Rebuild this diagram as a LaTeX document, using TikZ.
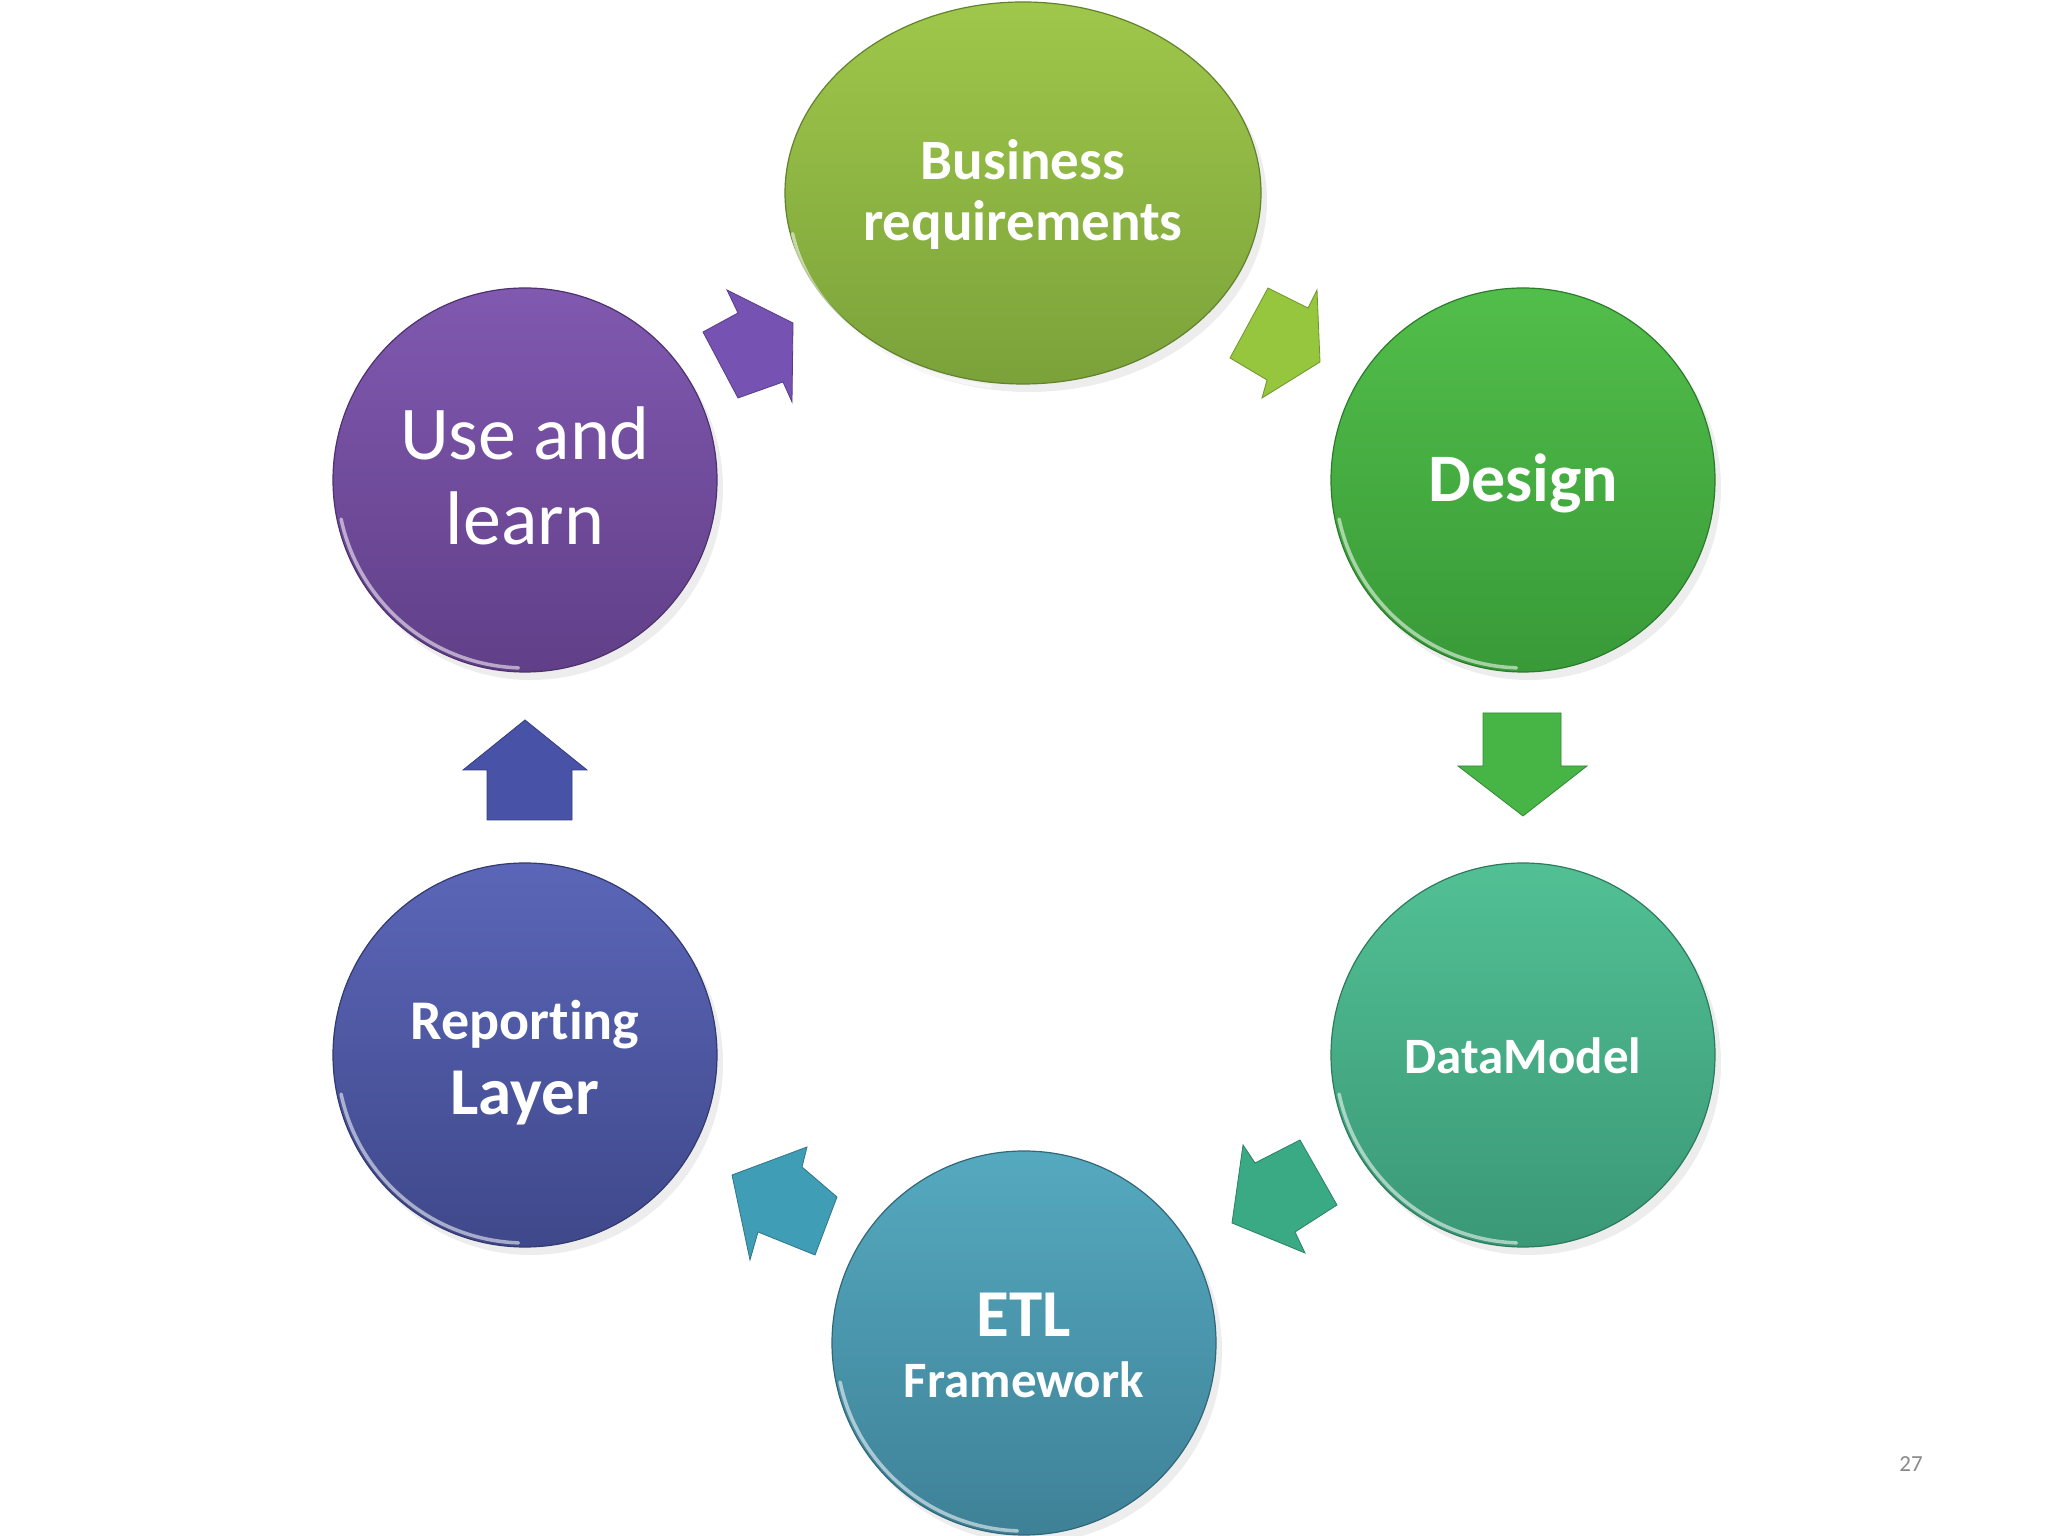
\documentclass[tikz,border=0pt]{standalone}
\usepackage{fontspec}
\setmainfont{Carlito}[Ligatures=NoCommon]
\usetikzlibrary{shapes.geometric}
\definecolor{bizT}{HTML}{9FC74A}
\definecolor{bizB}{HTML}{7BA23A}
\definecolor{desT}{HTML}{52BE4A}
\definecolor{desB}{HTML}{389A38}
\definecolor{datT}{HTML}{52C094}
\definecolor{datB}{HTML}{3A9877}
\definecolor{etlT}{HTML}{55A9BF}
\definecolor{etlB}{HTML}{3E8197}
\definecolor{repT}{HTML}{5B66B8}
\definecolor{repB}{HTML}{3F488A}
\definecolor{useT}{HTML}{8059B0}
\definecolor{useB}{HTML}{613F88}
\definecolor{arPur}{HTML}{7652B2}
\definecolor{arYg}{HTML}{96C63D}
\definecolor{arGr}{HTML}{47B545}
\definecolor{arTe}{HTML}{3AAA84}
\definecolor{arBt}{HTML}{3F9DB5}
\definecolor{arBl}{HTML}{4852A6}
\definecolor{pgnum}{HTML}{8A8A8A}
\tikzset{
  bubble/.style={circle, minimum size=384pt, inner sep=0pt, line width=1.2pt},
  oval/.style={ellipse, minimum width=476pt, minimum height=382pt, inner sep=0pt, line width=1.2pt},
  shade/.style={fill=black, opacity=0.07},
  hl/.style={white, opacity=0.55, line width=3.5pt, line cap=round},
  blk/.style={draw=#1!75!black, line width=0.8pt, fill=#1},
  lbl/.style={text=white, anchor=base, inner sep=0pt, font=\bfseries},
}
\begin{document}
\begin{tikzpicture}[x=1pt,y=1pt]
\useasboundingbox (0,0) rectangle (2048,1536);
\fill[white] (0,0) rectangle (2048,1536);
% soft shadows
\fill[shade] (1029,1335) ellipse [x radius=238, y radius=191];
\foreach \cx/\cy in {1523/1056, 1523/481, 1024/193, 525/481, 525/1056}
  \fill[shade] (\cx+6,\cy-8) circle (192);
% bubbles
\node[oval, top color=bizT, bottom color=bizB, draw=bizB!80!black] (biz) at (1023,1343) {};
\node[bubble, top color=desT, bottom color=desB, draw=desB!80!black] (des) at (1523,1056) {};
\node[bubble, top color=datT, bottom color=datB, draw=datB!80!black] (dat) at (1523,481) {};
\node[bubble, top color=etlT, bottom color=etlB, draw=etlB!80!black] (etl) at (1024,193) {};
\node[bubble, top color=repT, bottom color=repB, draw=repB!80!black] (rep) at (525,481) {};
\node[bubble, top color=useT, bottom color=useB, draw=useB!80!black] (use) at (525,1056) {};
% rim highlights
\draw[hl] ([shift={(190:234)}]biz.center) arc[start angle=190, end angle=262, x radius=234, y radius=187];
\foreach \n in {des,dat,etl,rep,use}
  \draw[hl] ([shift={(192:188)}]\n.center) arc[start angle=192, end angle=268, radius=188];
% labels
\node[lbl, font=\bfseries\fontsize{57}{57}\selectfont] (biz1) at (1023,1356) {Business};
\node[lbl, font=\bfseries\fontsize{57}{57}\selectfont] (biz2) at (1023,1295) {requirements};
\node[lbl, font=\bfseries\fontsize{68}{68}\selectfont] (des1) at (1523,1034) {Design};
\node[lbl, font=\bfseries\fontsize{51}{51}\selectfont] (dat1) at (1523,462) {DataModel};
\node[lbl, font=\bfseries\fontsize{67}{67}\selectfont] (etl1) at (1024,199) {ETL};
\node[lbl, font=\bfseries\fontsize{51}{51}\selectfont] (etl2) at (1024,138) {Framework};
\node[lbl, font=\bfseries\fontsize{56}{56}\selectfont] (rep1) at (525,496) {Reporting};
\node[lbl, font=\bfseries\fontsize{67}{67}\selectfont] (rep2) at (525,421) {Layer};
\node[lbl, font=\fontsize{76}{76}\selectfont] (use1) at (525,1076) {Use and};
\node[lbl, font=\fontsize{76}{76}\selectfont] (use2) at (525,991) {learn};
\node[anchor=base, inner sep=0pt, text=pgnum, font=\fontsize{23}{23}\selectfont] (pg) at (1911,64) {27};
% block arrows
\filldraw[blk=arPur] (727,1246) -- (793,1213) -- (792,1134) -- (783,1154) -- (738,1138) -- (703,1204) -- (738,1223) -- cycle;
\filldraw[blk=arYg] (1268,1248) -- (1308,1228) -- (1317,1246) -- (1320,1174) -- (1262,1138) -- (1267,1156) -- (1230,1178) -- cycle;
\filldraw[blk=arGr] (1483,823) -- (1561,823) -- (1561,770) -- (1587,770) -- (1523,720) -- (1458,770) -- (1483,770) -- cycle;
\filldraw[blk=arTe] (1243,391) -- (1255,373) -- (1300,396) -- (1337,331) -- (1295,304) -- (1305,283) -- (1232,313) -- cycle;
\filldraw[blk=arBt] (807,389) -- (802,369) -- (837,339) -- (815,281) -- (758,304) -- (750,276) -- (732,361) -- cycle;
\filldraw[blk=arBl] (487,716) -- (572,716) -- (572,766) -- (587,766) -- (525,816) -- (463,766) -- (487,766) -- cycle;
\end{tikzpicture}
\end{document}
